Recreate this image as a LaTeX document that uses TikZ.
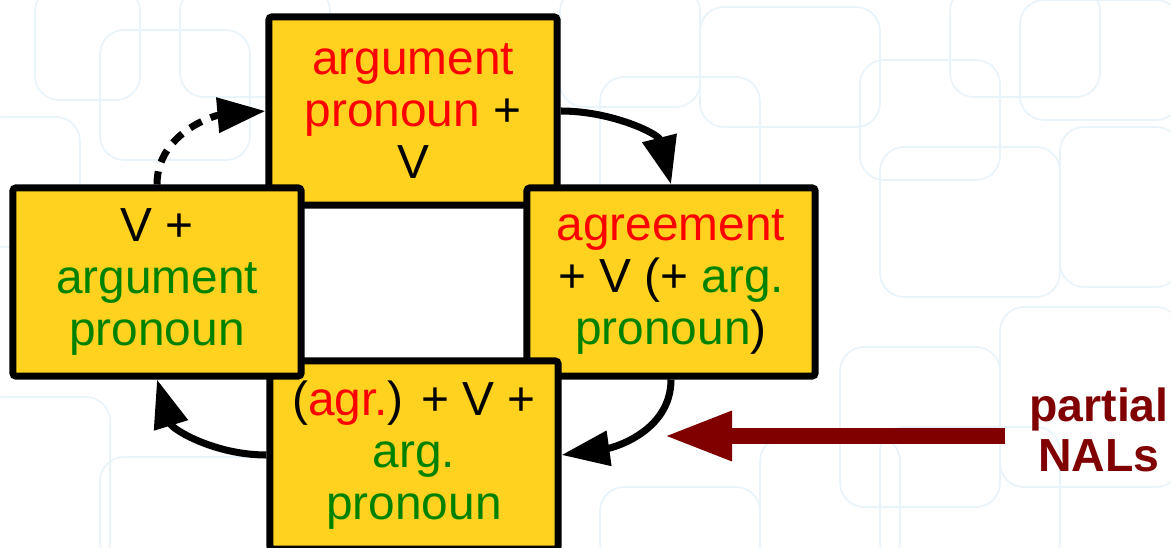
\documentclass[tikz,border=0pt]{standalone}
\usepackage{fontspec}
\setmainfont{Liberation Sans}
\usetikzlibrary{arrows.meta}
\definecolor{boxyellow}{RGB}{255,210,32}
\definecolor{argred}{RGB}{255,0,0}
\definecolor{arggreen}{RGB}{0,130,0}
\definecolor{nalsred}{RGB}{128,0,0}
\definecolor{bgblue}{RGB}{232,243,250}
\begin{document}
\begin{tikzpicture}[x=0.025cm,y=0.025cm,
  stagebox/.style={draw, line width=5pt, fill=boxyellow, rounded corners=2pt,
    minimum width=7.2cm, minimum height=4.7cm, align=center,
    font=\fontsize{34}{37}\selectfont},
  cycle/.style={line width=5pt, -{Triangle[length=1.2cm,width=0.85cm]}},
  bgline/.style={draw=bgblue, line width=1.2pt, rounded corners=0.6cm}]
  \useasboundingbox (0,0) rectangle (1171,547);
  % pale rounded squares in the background
  \foreach \xa/\ya/\xb/\yb in {35/447/140/560, 100/387/250/517, 180/450/330/560,
      -20/300/80/430, 560/440/700/560, 600/330/760/470, 700/420/880/540,
      860/367/1000/487, 950/450/1100/560, 1020/427/1180/547, 880/250/1060/400,
      1060/260/1180/420, 840/40/1000/200, 880/-20/1060/120, 1000/60/1180/240,
      -20/-20/110/150, 100/-20/300/90, 600/-20/760/60, 760/-20/900/110}
    \draw[bgline] (\xa,\ya) rectangle (\xb,\yb);
  % the four stages, drawn top, right, bottom, left
  \node[stagebox] (top) at (413,436)
    {\textcolor{argred}{argument}\\\textcolor{argred}{pronoun} +\\V};
  \node[stagebox] (right) at (671,265)
    {\textcolor{argred}{agreement}\\+ V (+ \textcolor{arggreen}{arg.}\\\textcolor{arggreen}{pronoun})};
  \node[stagebox] (bottom) at (414,92)
    {(\textcolor{argred}{agr.}) + V +\\\textcolor{arggreen}{arg.}\\\textcolor{arggreen}{pronoun}};
  \node[stagebox] (left) at (157,265)
    {V +\\\textcolor{arggreen}{argument}\\\textcolor{arggreen}{pronoun}};
  % cycle arrows, the last one dashed
  \draw[cycle] (top.east) to[out=0,in=104] (right.north);
  \draw[cycle] (right.south) to[out=-90,in=8] (bottom.east);
  \draw[cycle] (bottom.west) to[out=180,in=-73] (left.south);
  \draw[cycle, dash pattern=on 0.33cm off 0.24cm] (left.north) to[out=90,in=185] (top.west);
  % label on the right with its arrow
  \node[font=\bfseries\fontsize{33}{36}\selectfont, text=nalsred, align=center,
    inner xsep=0.6cm] (nals) at (1099,117) {partial\\NALs};
  \coordinate (nalstip) at (664,111);
  \draw[nalsred, line width=0.375cm, -{Triangle[length=1.7cm,width=1.15cm]}]
    (nals.west |- nalstip) -- (nalstip);
\end{tikzpicture}
\end{document}
